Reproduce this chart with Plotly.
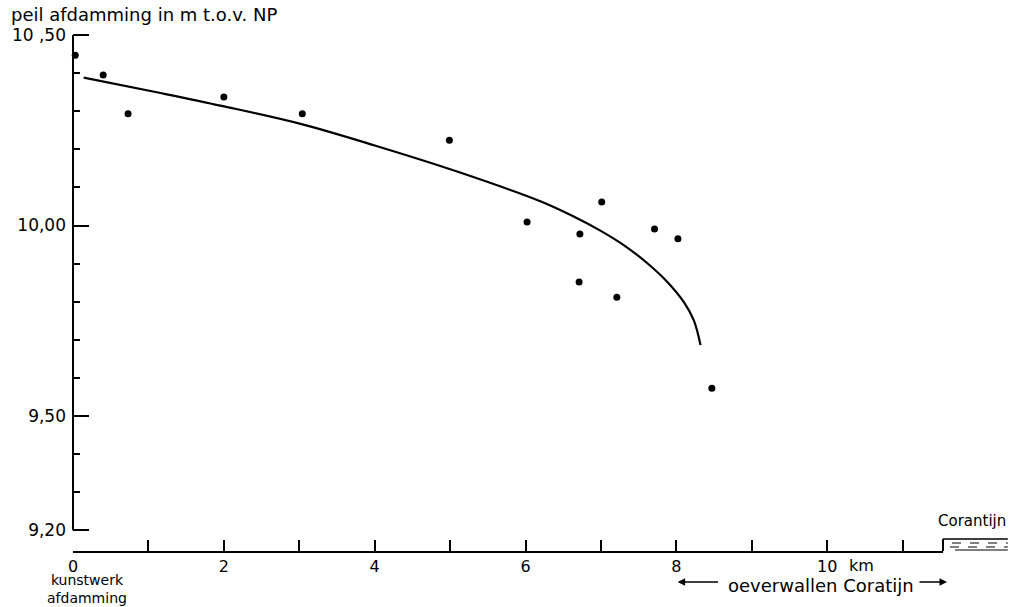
import plotly.graph_objects as go

# measured points: distance (km) and water level (m t.o.v. NP)
pt_km = [0.03, 0.40, 0.73, 2.00, 3.04, 4.99, 6.02, 6.72, 6.71, 7.01, 7.21, 7.71, 8.02, 8.47]
pt_level = [10.447, 10.395, 10.293, 10.337, 10.293, 10.224, 10.009, 9.978, 9.852, 10.062, 9.812, 9.991, 9.965, 9.573]

# fitted curve
curve_km = [0.142, 1.177, 1.971, 3.029, 4.000, 5.102, 6.204, 6.644, 6.997, 7.306, 7.615, 7.880, 8.099, 8.231, 8.320]
curve_level = [10.388, 10.347, 10.314, 10.266, 10.210, 10.141, 10.063, 10.023, 9.986, 9.948, 9.901, 9.852, 9.799, 9.751, 9.686]

y_tickvals = [9.2, 9.5, 10.0, 10.5]
y_ticktext = ["9,20", "9,50", "10,00", "10 ,50"]
y_minor = [9.3, 9.4, 9.6, 9.7, 9.8, 9.9, 10.1, 10.2, 10.3, 10.4]
x_tickvals = [0, 1, 2, 3, 4, 5, 6, 7, 8, 9, 10, 11]
x_ticktext = ["0", "", "2", "", "4", "", "6", "", "8", "", "10", ""]

FONT = "DejaVu Sans"
FS = 17
W, H = 1016, 607
L, R, T, B = 71, 73, 30, 56
PW, PH = W - L - R, H - T - B


def xp(px):
    return (px - L) / PW


def yp(py):
    return (H - B - py) / PH


fig = go.Figure()
fig.add_trace(go.Scatter(x=curve_km, y=curve_level, mode="lines",
                         line=dict(color="black", width=2.2, shape="spline", smoothing=1.0),
                         hoverinfo="skip", cliponaxis=False))
fig.add_trace(go.Scatter(x=pt_km, y=pt_level, mode="markers", marker=dict(color="black", size=7), cliponaxis=False))

fig.update_layout(
    width=W, height=H, margin=dict(l=L, r=R, t=T, b=B),
    paper_bgcolor="white", plot_bgcolor="white", showlegend=False,
    font=dict(family=FONT, size=FS, color="black"),
)
fig.update_xaxes(
    range=[0, (943 - L) / 75.6], tickmode="array", tickvals=x_tickvals, ticktext=x_ticktext,
    ticks="inside", ticklen=11, tickwidth=1.5, tickcolor="black",
    showline=True, linecolor="black", linewidth=2, showgrid=False, zeroline=False,
    tickfont=dict(family=FONT, size=16), ticklabelstandoff=0,
)
fig.update_yaxes(
    range=[10.50 - (H - B - 35) / 381, 10.50 + 5 / 381],
    tickmode="array", tickvals=y_tickvals, ticktext=y_ticktext,
    ticks="inside", ticklen=16, tickwidth=2, tickcolor="black",
    minor=dict(tickmode="array", tickvals=y_minor, ticks="inside", ticklen=7, tickwidth=1.5, tickcolor="black"),
    showline=False, showgrid=False, zeroline=False, ticklabelstandoff=6,
    tickfont=dict(family=FONT, size=FS),
)

shapes = []
# y axis line from 9,20 to 10,50
shapes.append(dict(type="line", xref="paper", yref="y", x0=0, x1=0, y0=9.2, y1=10.5, line=dict(color="black", width=2)))
# Corantijn river symbol
shapes.append(dict(type="line", xref="paper", yref="paper", x0=xp(943), x1=xp(943), y0=yp(551), y1=yp(539), line=dict(color="black", width=2)))
shapes.append(dict(type="line", xref="paper", yref="paper", x0=xp(943), x1=xp(1008), y0=yp(539), y1=yp(539), line=dict(color="black", width=1.5)))
shapes.append(dict(type="line", xref="paper", yref="paper", x0=xp(952), x1=xp(1008), y0=yp(543), y1=yp(543), line=dict(color="black", width=1.2, dash="dash")))
shapes.append(dict(type="line", xref="paper", yref="paper", x0=xp(950), x1=xp(1008), y0=yp(547), y1=yp(547), line=dict(color="black", width=1.2, dash="dash")))
shapes.append(dict(type="line", xref="paper", yref="paper", x0=xp(955), x1=xp(1008), y0=yp(550), y1=yp(550), line=dict(color="black", width=1.2)))
fig.update_layout(shapes=shapes)

ann = [
    dict(text="peil afdamming in m t.o.v. NP", x=xp(7), y=yp(14), xanchor="left", yanchor="middle", size=18),
    dict(text="Corantijn", x=xp(1008), y=yp(521), xanchor="right", yanchor="middle", size=15),
    dict(text="km", x=xp(861), y=yp(565), xanchor="center", yanchor="middle", size=16),
    dict(text="kunstwerk<br>afdamming", x=xp(85), y=yp(589), xanchor="center", yanchor="middle", size=14),
    dict(text="oeverwallen Coratijn", x=xp(821), y=yp(585), xanchor="center", yanchor="middle", size=18),
]
for a in ann:
    s = a.pop("size")
    a.update(xref="paper", yref="paper", showarrow=False, font=dict(family=FONT, size=s, color="black"))
ann.append(dict(text="", xref="paper", yref="paper", x=xp(677), y=yp(582), ax=42, ay=0, showarrow=True,
                arrowhead=2, arrowsize=1, arrowwidth=1.5, arrowcolor="black"))
ann.append(dict(text="", xref="paper", yref="paper", x=xp(947), y=yp(582), ax=-29, ay=0, showarrow=True,
                arrowhead=2, arrowsize=1, arrowwidth=1.5, arrowcolor="black"))
fig.update_layout(annotations=ann)

fig.write_html("out.html", config={"displayModeBar": False},
               post_script="document.body.style.margin='0';document.body.style.overflow='hidden';")
